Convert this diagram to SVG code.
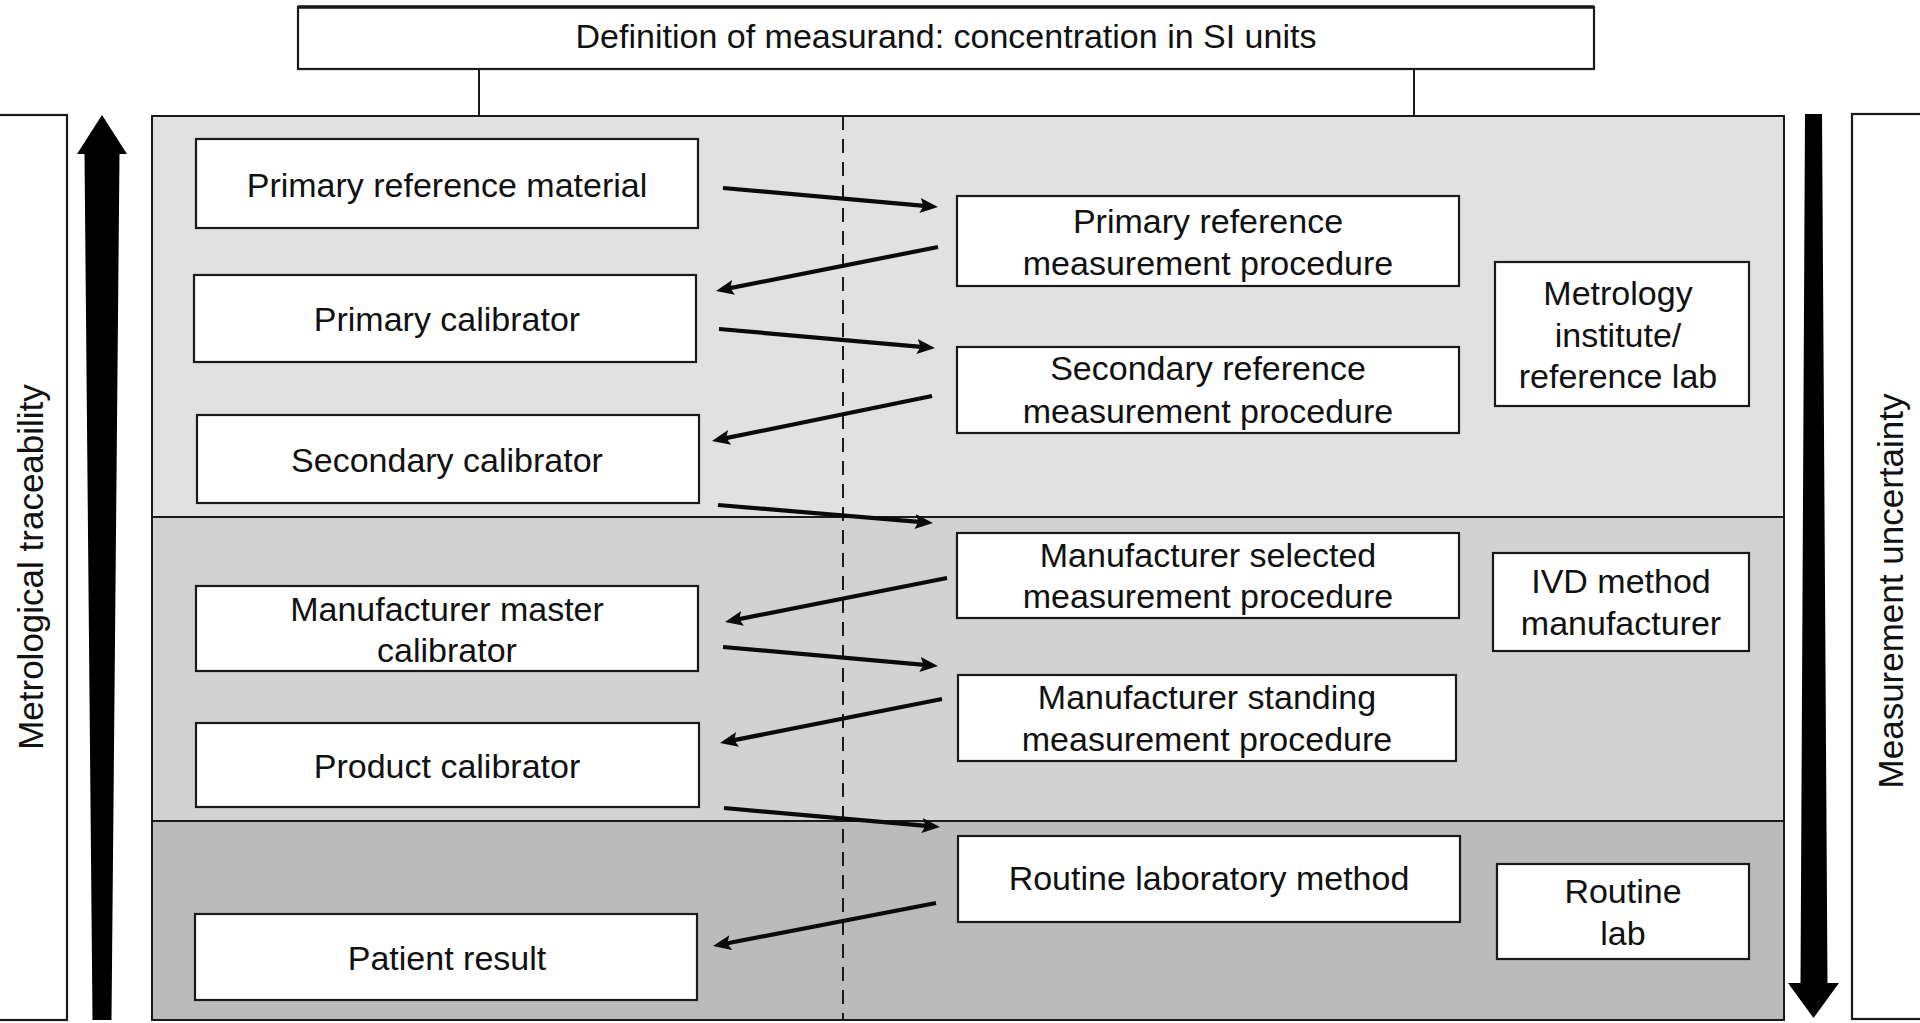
<svg xmlns="http://www.w3.org/2000/svg" width="1920" height="1023" viewBox="0 0 1920 1023">
<style>
  .box { fill: #ffffff; stroke: #1a1a1a; stroke-width: 2.2; }
  .t { font-family: "Liberation Sans", Arial, sans-serif; font-size: 34px; fill: #111; text-anchor: middle; }
  .rt { font-family: "Liberation Sans", Arial, sans-serif; font-size: 35px; fill: #111; text-anchor: middle; }
  .conn { stroke: #0a0a0a; stroke-width: 4.2; fill: none; marker-end: url(#ah); }
  .thin { stroke: #1a1a1a; stroke-width: 2; fill: none; }
</style>
<defs>
  <marker id="ah" markerUnits="userSpaceOnUse" markerWidth="20" markerHeight="16" refX="10" refY="7.5" orient="auto">
    <path d="M0,0 L18,7.5 L0,15 L3.5,7.5 z" fill="#0a0a0a"/>
  </marker>
</defs>
<rect x="0" y="0" width="1920" height="1023" fill="#ffffff"/>

<g id="panel">
  <rect x="152" y="116" width="1632" height="401" fill="#e1e1e1"/>
  <rect x="152" y="517" width="1632" height="304" fill="#d2d2d2"/>
  <rect x="152" y="821" width="1632" height="199" fill="#bbbbbb"/>
  <rect x="152" y="116" width="1632" height="904" class="thin"/>
  <line x1="152" y1="517" x2="1784" y2="517" class="thin"/>
  <line x1="152" y1="821" x2="1784" y2="821" class="thin"/>
  <line x1="843" y1="116" x2="843" y2="1020" stroke="#1a1a1a" stroke-width="2" stroke-dasharray="14 9"/>
</g>

<g id="definition">
  <rect x="298" y="7" width="1296" height="62" class="box"/>
  <line x1="298" y1="7" x2="1594" y2="7" stroke="#1a1a1a" stroke-width="3.5"/>
  <text x="946" y="48" class="t">Definition of measurand: concentration in SI units</text>
</g>

<g id="traceability">
  <rect x="-2" y="115" width="69" height="905" class="box"/>
  <text class="rt" transform="translate(43,567) rotate(-90)">Metrological traceability</text>
  <polygon points="102,115 127,154 119.5,154 111.5,1020 92.5,1020 84.5,154 77,154" fill="#000"/>
</g>

<g id="uncertainty">
  <rect x="1852" y="114" width="72" height="905" class="box"/>
  <text class="rt" transform="translate(1903,591) rotate(-90)">Measurement uncertainty</text>
  <polygon points="1805,114 1822,114 1827.5,983 1839,983 1813.5,1018 1788,983 1800.5,983" fill="#000"/>
</g>

<g id="prm">
  <rect x="196" y="139" width="502" height="89" class="box"/>
  <text x="447" y="197" class="t">Primary reference material</text>
</g>
<g id="primary-cal">
  <rect x="194" y="275" width="502" height="87" class="box"/>
  <text x="447" y="331" class="t">Primary calibrator</text>
</g>
<g id="secondary-cal">
  <rect x="197" y="415" width="502" height="88" class="box"/>
  <text x="447" y="472" class="t">Secondary calibrator</text>
</g>
<g id="master-cal">
  <rect x="196" y="586" width="502" height="85" class="box"/>
  <text x="447" y="621" class="t">Manufacturer master</text>
  <text x="447" y="662" class="t">calibrator</text>
</g>
<g id="product-cal">
  <rect x="196" y="723" width="503" height="84" class="box"/>
  <text x="447" y="778" class="t">Product calibrator</text>
</g>
<g id="patient">
  <rect x="195" y="914" width="502" height="86" class="box"/>
  <text x="447" y="970" class="t">Patient result</text>
</g>

<g id="prmp">
  <rect x="957" y="196" width="502" height="90" class="box"/>
  <text x="1208" y="233" class="t">Primary reference</text>
  <text x="1208" y="275" class="t">measurement procedure</text>
</g>
<g id="srmp">
  <rect x="957" y="347" width="502" height="86" class="box"/>
  <text x="1208" y="380" class="t">Secondary reference</text>
  <text x="1208" y="423" class="t">measurement procedure</text>
</g>
<g id="msmp">
  <rect x="957" y="533" width="502" height="85" class="box"/>
  <text x="1208" y="567" class="t">Manufacturer selected</text>
  <text x="1208" y="608" class="t">measurement procedure</text>
</g>
<g id="mstp">
  <rect x="958" y="675" width="498" height="86" class="box"/>
  <text x="1207" y="709" class="t">Manufacturer standing</text>
  <text x="1207" y="751" class="t">measurement procedure</text>
</g>
<g id="rlm">
  <rect x="958" y="836" width="502" height="86" class="box"/>
  <text x="1209" y="890" class="t">Routine laboratory method</text>
</g>

<g id="metrology">
  <rect x="1495" y="262" width="254" height="144" class="box"/>
  <text x="1618" y="305" class="t">Metrology</text>
  <text x="1618" y="347" class="t">institute/</text>
  <text x="1618" y="388" class="t">reference lab</text>
</g>
<g id="ivd">
  <rect x="1493" y="553" width="256" height="98" class="box"/>
  <text x="1621" y="593" class="t">IVD method</text>
  <text x="1621" y="635" class="t">manufacturer</text>
</g>
<g id="routine-lab">
  <rect x="1497" y="864" width="252" height="95" class="box"/>
  <text x="1623" y="903" class="t">Routine</text>
  <text x="1623" y="945" class="t">lab</text>
</g>

<g id="connectors">
  <line x1="479" y1="69" x2="479" y2="116" class="thin"/>
  <line x1="1414" y1="69" x2="1414" y2="116" class="thin"/>
  <line x1="723" y1="188" x2="930" y2="206.3" class="conn"/>
  <line x1="938" y1="247" x2="723.8" y2="289.4" class="conn"/>
  <line x1="719" y1="329" x2="927" y2="347.3" class="conn"/>
  <line x1="932" y1="396" x2="719.8" y2="439.4" class="conn"/>
  <line x1="718" y1="505" x2="925" y2="522.3" class="conn"/>
  <line x1="947" y1="578" x2="732.8" y2="620.4" class="conn"/>
  <line x1="723" y1="647" x2="930" y2="665.3" class="conn"/>
  <line x1="942" y1="699" x2="727.8" y2="741.4" class="conn"/>
  <line x1="724" y1="808" x2="932" y2="826.3" class="conn"/>
  <line x1="936" y1="903" x2="720.9" y2="944.5" class="conn"/>
</g>
</svg>
